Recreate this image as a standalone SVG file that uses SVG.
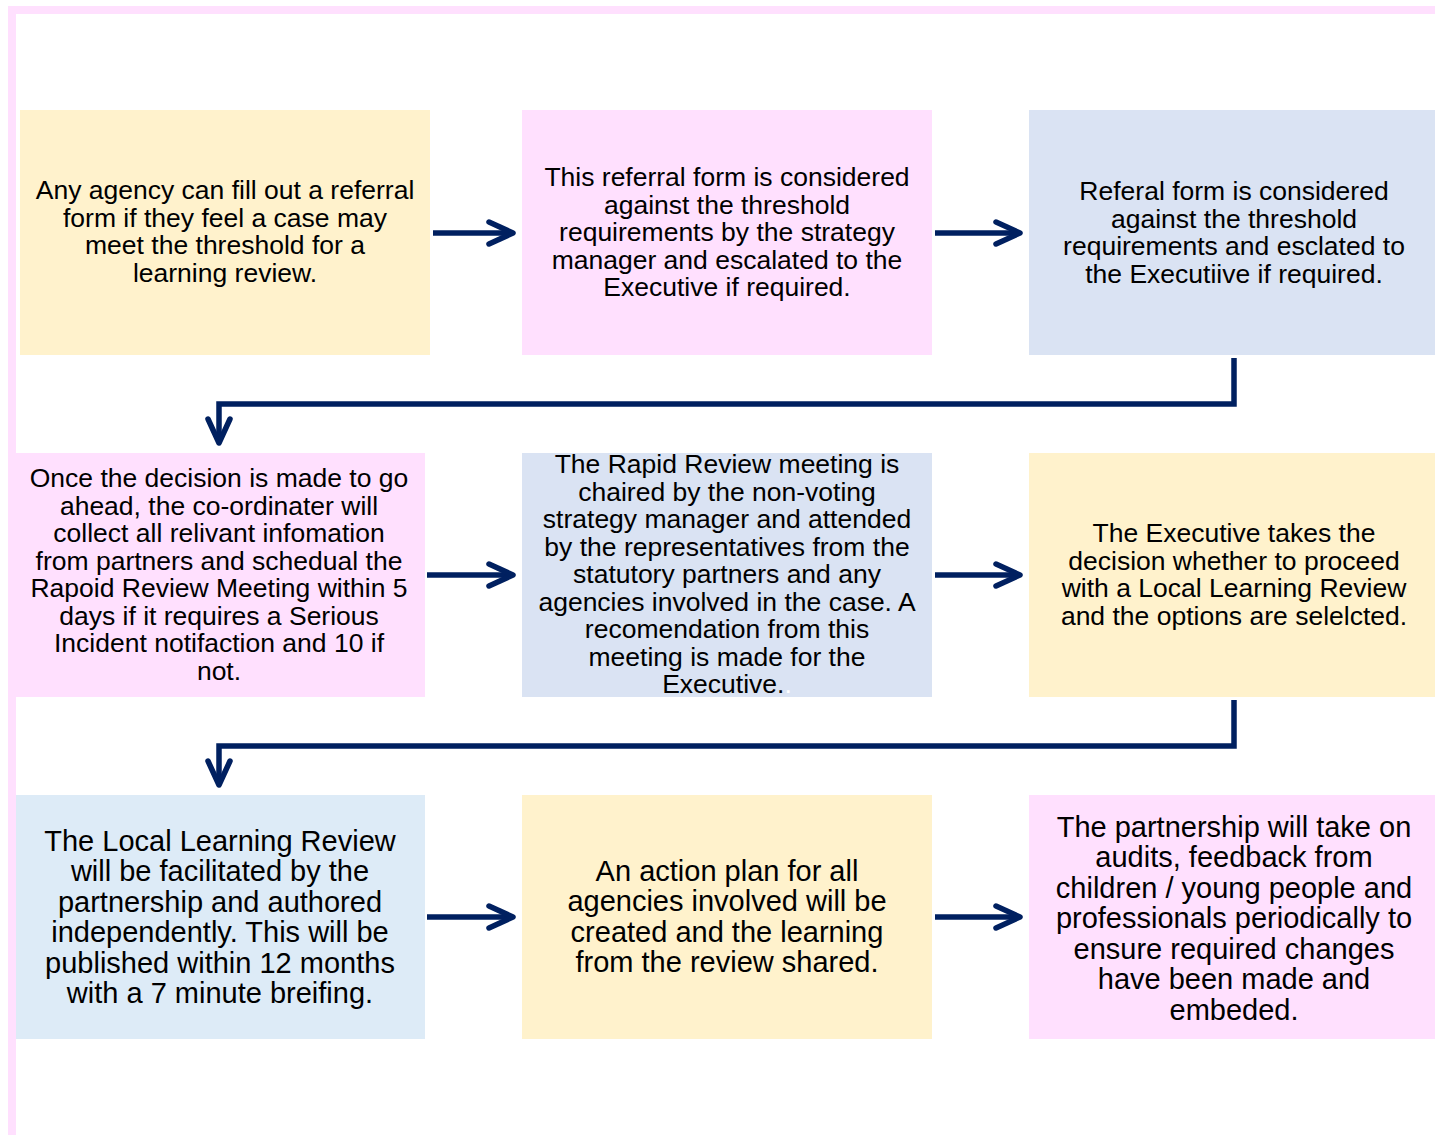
<svg xmlns="http://www.w3.org/2000/svg" width="1435" height="1135" viewBox="0 0 1435 1135">
<style>
.t{font-family:"Liberation Sans",Arial,sans-serif;font-size:26.5px;fill:#000;text-anchor:middle}
.t3{font-size:29px}
.c{fill:none;stroke:#002060;stroke-width:5.5;marker-end:url(#ah)}
.pk{fill:#FFE0FE}.yl{fill:#FFF2CC}.bl{fill:#DAE3F3}.lb{fill:#DDEBF7}
</style>
<defs>
<marker id="ah" markerUnits="userSpaceOnUse" markerWidth="40" markerHeight="40" viewBox="-10 -10 40 40" refX="18" refY="12" orient="auto" overflow="visible">
<path d="M-2,1 L22,12 L-2,23" fill="none" stroke="#002060" stroke-width="5.5" stroke-linecap="round" stroke-linejoin="round"/>
</marker>
</defs>
<rect width="1435" height="1135" fill="#fff"/>
<path d="M12,1135 V10 H1435" fill="none" stroke="#FFE0FE" stroke-width="8"/>

<g id="n1"><rect class="yl" x="20" y="110" width="410" height="245"/>
<text class="t"><tspan x="225" y="199">Any agency can fill out a referral</tspan><tspan x="225" y="226.5">form if they feel a case may</tspan><tspan x="225" y="254">meet the threshold for a</tspan><tspan x="225" y="281.5">learning review.</tspan></text></g>

<g id="n2"><rect class="pk" x="522" y="110" width="410" height="245"/>
<text class="t"><tspan x="727" y="186">This referral form is considered</tspan><tspan x="727" y="213.5">against the threshold</tspan><tspan x="727" y="241">requirements by the strategy</tspan><tspan x="727" y="268.5">manager and escalated to the</tspan><tspan x="727" y="296">Executive if required.</tspan></text></g>

<g id="n3"><rect class="bl" x="1029" y="110" width="406" height="245"/>
<text class="t"><tspan x="1234" y="200">Referal form is considered</tspan><tspan x="1234" y="227.5">against the threshold</tspan><tspan x="1234" y="255">requirements and esclated to</tspan><tspan x="1234" y="282.5">the Executiive if required.</tspan></text></g>

<g id="n4"><rect class="pk" x="12" y="453" width="413" height="244"/>
<text class="t"><tspan x="219" y="487">Once the decision is made to go</tspan><tspan x="219" y="514.5">ahead, the co-ordinater will</tspan><tspan x="219" y="542">collect all relivant infomation</tspan><tspan x="219" y="569.5">from partners and schedual the</tspan><tspan x="219" y="597">Rapoid Review Meeting within 5</tspan><tspan x="219" y="624.5">days if it requires a Serious</tspan><tspan x="219" y="652">Incident notifaction and 10 if</tspan><tspan x="219" y="679.5">not.</tspan></text></g>

<g id="n5"><rect class="bl" x="522" y="453" width="410" height="244"/>
<text class="t"><tspan x="727" y="473">The Rapid Review meeting is</tspan><tspan x="727" y="500.5">chaired by the non-voting</tspan><tspan x="727" y="528">strategy manager and attended</tspan><tspan x="727" y="555.5">by the representatives from the</tspan><tspan x="727" y="583">statutory partners and any</tspan><tspan x="727" y="610.5">agencies involved in the case. A</tspan><tspan x="727" y="638">recomendation from this</tspan><tspan x="727" y="665.5">meeting is made for the</tspan><tspan x="727" y="693">Executive.<tspan fill="#fff">.</tspan></tspan></text></g>

<g id="n6"><rect class="yl" x="1029" y="453" width="406" height="244"/>
<text class="t"><tspan x="1234" y="542">The Executive takes the</tspan><tspan x="1234" y="569.5">decision whether to proceed</tspan><tspan x="1234" y="597">with a Local Learning Review</tspan><tspan x="1234" y="624.5">and the options are selelcted.</tspan></text></g>

<g id="n7"><rect class="lb" x="16" y="795" width="409" height="244"/>
<text class="t t3"><tspan x="220" y="850.5">The Local Learning Review</tspan><tspan x="220" y="881">will be facilitated by the</tspan><tspan x="220" y="911.5">partnership and authored</tspan><tspan x="220" y="942">independently. This will be</tspan><tspan x="220" y="972.5">published within 12 months</tspan><tspan x="220" y="1003">with a 7 minute breifing.</tspan></text></g>

<g id="n8"><rect class="yl" x="522" y="795" width="410" height="244"/>
<text class="t t3"><tspan x="727" y="880.5">An action plan for all</tspan><tspan x="727" y="911">agencies involved will be</tspan><tspan x="727" y="941.5">created and the learning</tspan><tspan x="727" y="972">from the review shared.</tspan></text></g>

<g id="n9"><rect class="pk" x="1029" y="795" width="406" height="244"/>
<text class="t t3"><tspan x="1234" y="836.5">The partnership will take on</tspan><tspan x="1234" y="867">audits, feedback from</tspan><tspan x="1234" y="897.5">children / young people and</tspan><tspan x="1234" y="928">professionals periodically to</tspan><tspan x="1234" y="958.5">ensure required changes</tspan><tspan x="1234" y="989">have been made and</tspan><tspan x="1234" y="1019.5">embeded.</tspan></text></g>

<g id="connectors">
<path class="c" d="M433,233 H509"/>
<path class="c" d="M935,233 H1016"/>
<path class="c" d="M1234,358 V404 H219 V439"/>
<path class="c" d="M427,575 H509"/>
<path class="c" d="M935,575 H1016"/>
<path class="c" d="M1234,700 V746 H219 V781"/>
<path class="c" d="M427,917 H509"/>
<path class="c" d="M935,917 H1016"/>
</g>
</svg>
